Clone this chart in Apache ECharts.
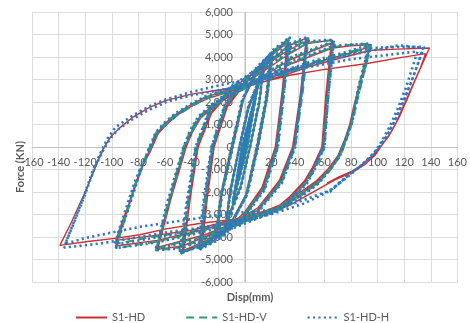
<!DOCTYPE html>
<html>
<head>
<meta charset="utf-8">
<script src="https://cdn.jsdelivr.net/npm/echarts@6/dist/echarts.min.js"></script>
<style>
  html, body { margin: 0; padding: 0; background: #fff; }
  #chart { width: 470px; height: 323px; }
</style>
</head>
<body>
<div id="chart"></div>
<script>
// series names
const seriesNames = ['S1-HD', 'S1-HD-V', 'S1-HD-H'];

// S1-HD  [disp (mm), force (kN)]
const hdPoints = [
  [0,0],
  [5,1400],[0.5,0],[-5,-1400],[-0.5,0],[5,1350],[0.5,0],[-5,-1350],[-0.5,0],
  [9,2500],[2,0],[-9,-2450],[-2,0],[9,2400],[2,0],[-9,-2400],[-2,0],
  [14,3500],[11,2000],[4,0],[-3,-1700],[-14,-3400],[-11,-2000],[-4,0],[3,1700],[14,3400],[11,1900],[4,0],[-3,-1700],[-14,-3300],[-11,-1900],[-4,0],[3,1800],
  [21,4200],[17,2200],[10,0],[2,-2000],[-10,-3300],[-22,-4000],[-18,-2100],[-10,0],[-2,2000],[10,3400],[20,4100],[16,2100],[9,0],[1,-2100],[-10,-3300],[-21,-3900],[-17,-2000],[-9,0],[-1,2100],[10,3400],
  [22,4250],[33,4800],[29,2600],[24,0],[14,-1800],[0,-3000],[-15,-3800],[-22,-4100],[-33,-4500],[-29,-2300],[-24,0],[-14,1800],[0,2900],[15,3800],[32,4650],[28,2400],[23,0],[13,-1800],[0,-2900],[-15,-3700],[-32,-4400],[-28,-2200],[-23,0],[-13,1800],[0,2800],[15,3600],[33,4500],
  [47,4850],[43,2600],[37,0],[27,-1500],[10,-2800],[-10,-3500],[-33,-4300],[-47,-4700],[-42,-2500],[-36,0],[-26,1500],[-10,2600],[10,3400],[30,4200],[46,4700],[42,2400],[36,0],[26,-1500],[10,-2700],[-10,-3400],[-30,-4200],[-46,-4600],[-41,-2300],[-35,0],[-25,1500],[-10,2500],[10,3200],[30,4000],[47,4600],
  [66,4750],[62,2400],[59,0],[52,-900],[46,-1500],[35,-2200],[25,-2700],[0,-3300],[-30,-4000],[-47,-4400],[-66,-4550],[-56,-2300],[-45,0],[-40,700],[-34,1330],[-24,1850],[-14,2220],[10,3000],[35,3900],[65,4600],[61,2300],[58,0],[51,-900],[45,-1500],[34,-2200],[24,-2700],[0,-3200],[-30,-3900],[-65,-4450],[-55,-2200],[-44,0],[-39,700],[-33,1300],[-23,1800],[-14,2150],[10,2900],[35,3700],[66,4400],
  [80,4500],[95,4550],[93,4150],[91,3780],[87,2900],[83,1900],[80,1110],[76,400],[71,-370],[64,-900],[55,-1500],[43,-2050],[30,-2600],[15,-2950],[0,-3200],[-20,-3500],[-40,-3800],[-66,-4150],[-97,-4400],
  [-92,-3500],[-87,-2600],[-82,-1700],[-77,-900],[-72,-200],[-66,600],[-59,1100],[-51,1490],[-40,1900],[-29,2220],[-9,2600],[20,3100],[50,3700],[75,4100],[94,4450],
  [90,3600],[86,2700],[82,1800],[79,1000],[75,300],[70,-400],[63,-950],[54,-1500],[42,-2000],[30,-2500],[15,-2850],[0,-3100],[-20,-3400],[-40,-3700],[-70,-3950],[-97,-4150],
  [-92,-3300],[-87,-2500],[-82,-1600],[-77,-850],[-71,-200],[-65,600],[-58,1050],[-50,1450],[-39,1850],[-28,2150],[-9,2500],[20,3000],[50,3600],[75,4000],[95,4300],
  [115,4350],[139,4400],[134,3750],[128,2950],[122,2100],[116,1300],[110,650],[104,150],[98,-370],[90,-800],[80,-1150],[70,-1400],[62,-1650],[50,-2050],[35,-2550],[19,-2950],[0,-3150],[-34,-3400],[-60,-3650],[-79,-3900],[-96,-4050],[-118,-4200],[-139,-4370],
  [-130,-3300],[-120,-2000],[-111,-720],[-106,-50],[-101,440],[-94,850],[-84,1330],[-72,1750],[-59,2075],[-40,2350],[-21,2520],[0,2700],[34,3190],[60,3450],[91,3700],[115,3950],[136,4150],
  [132,3500],[126,2700],[120,1900],[114,1100],[108,450],[102,0],[96,-400],[88,-800],[80,-1100],[70,-1350],[62,-1600]
];

// S1-HD-V
const hdvPoints = [
  [0,0],
  [5,1450],[0.5,0],[-5,-1450],[-0.5,0],[5,1400],[0.5,0],[-5,-1400],[-0.5,0],
  [9,2550],[2,0],[-9,-2500],[-2,0],[9,2450],[2,0],[-9,-2450],[-2,0],
  [14,3550],[11,2050],[4,0],[-3,-1750],[-14,-3450],[-11,-2050],[-4,0],[3,1750],[14,3450],[11,1950],[4,0],[-3,-1750],[-14,-3350],[-11,-1950],[-4,0],[3,1850],
  [21,4250],[17,2250],[10,0],[2,-2050],[-10,-3350],[-22,-4050],[-18,-2150],[-10,0],[-2,2050],[10,3450],[20,4150],[16,2150],[9,0],[1,-2150],[-10,-3350],[-21,-3950],[-17,-2050],[-9,0],[-1,2150],[10,3450],
  [22,4300],[34,4850],[30,2600],[25,0],[15,-1850],[0,-3050],[-15,-3850],[-22,-4150],[-34,-4550],[-30,-2350],[-25,0],[-15,1850],[0,2950],[15,3850],[33,4700],[29,2450],[24,0],[14,-1850],[0,-2950],[-15,-3750],[-33,-4450],[-29,-2250],[-24,0],[-14,1850],[0,2850],[15,3650],[34,4550],
  [48,4850],[44,2600],[38,0],[28,-1550],[10,-2850],[-10,-3550],[-33,-4350],[-48,-4750],[-43,-2550],[-37,0],[-27,1550],[-10,2650],[10,3450],[30,4250],[47,4750],[43,2450],[37,0],[27,-1550],[10,-2750],[-10,-3450],[-30,-4250],[-47,-4650],[-42,-2350],[-36,0],[-26,1550],[-10,2550],[10,3250],[30,4050],[48,4650],
  [67,4750],[63,2400],[60,0],[53,-950],[47,-1550],[36,-2250],[26,-2750],[0,-3350],[-30,-4050],[-47,-4450],[-67,-4600],[-57,-2350],[-46,0],[-41,700],[-35,1300],[-25,1850],[-15,2200],[10,3000],[35,3950],[66,4650],[62,2300],[59,0],[52,-950],[46,-1550],[35,-2250],[25,-2750],[0,-3250],[-30,-3950],[-66,-4500],[-56,-2250],[-45,0],[-40,650],[-34,1250],[-24,1800],[-15,2150],[10,2900],[35,3750],[67,4450],
  [80,4550],[95,4600],[93,4200],[92,3800],[88,2900],[84,1900],[81,1100],[77,400],[72,-400],[65,-950],[56,-1550],[44,-2100],[30,-2650],[15,-3000],[0,-3250],[-20,-3550],[-40,-3850],[-66,-4200],[-97,-4500],
  [-92,-3550],[-87,-2650],[-83,-1750],[-78,-950],[-73,-200],[-67,600],[-60,1050],[-52,1450],[-41,1850],[-30,2200],[-10,2600],[20,3150],[50,3750],[75,4150],[94,4500],
  [90,3650],[86,2750],[83,1850],[80,1000],[76,300],[71,-400],[64,-1000],[55,-1550],[43,-2050],[30,-2550],[15,-2900],[0,-3150],[-20,-3450],[-40,-3750],[-70,-4000],[-97,-4300],
  [-92,-3400],[-87,-2550],[-82,-1650],[-77,-900],[-72,-200],[-66,600],[-59,1000],[-51,1400],[-40,1800],[-29,2150],[-10,2550],[20,3050],[50,3650],[75,4100],[95,4450],
  [93,4050],[91,3600],[87,2750],[83,1850],[80,1000],[76,300],[71,-450],[64,-1050],[55,-1600],[43,-2100],[30,-2600],[15,-2950],[0,-3200]
];

// S1-HD-H
const hdhPoints = [
  [0,0],
  [5,1500],[0.5,0],[-5,-1500],[-0.5,0],[5,1450],[0.5,0],[-5,-1450],[-0.5,0],
  [9,2600],[2,0],[-9,-2550],[-2,0],[9,2500],[2,0],[-9,-2500],[-2,0],
  [14,3600],[11,2100],[4,0],[-3,-1800],[-14,-3500],[-11,-2100],[-4,0],[3,1800],[14,3500],[11,2000],[4,0],[-3,-1800],[-14,-3400],[-11,-2000],[-4,0],[3,1900],
  [21,4300],[17,2300],[10,0],[2,-2100],[-10,-3400],[-22,-4100],[-18,-2200],[-10,0],[-2,2100],[10,3500],[20,4200],[16,2200],[9,0],[1,-2200],[-10,-3400],[-21,-4000],[-17,-2100],[-9,0],[-1,2200],[10,3500],
  [22,4350],[34,4890],[30,2650],[25,0],[15,-1900],[0,-3100],[-15,-3900],[-22,-4200],[-35,-4600],[-31,-2400],[-25,0],[-15,1900],[0,3000],[15,3900],[33,4750],[29,2500],[24,0],[14,-1900],[0,-3000],[-15,-3800],[-34,-4500],[-30,-2300],[-24,0],[-14,1900],[0,2900],[15,3700],[34,4600],
  [47,4890],[43,2650],[38,0],[28,-1600],[10,-2900],[-10,-3600],[-33,-4400],[-49,-4740],[-44,-2600],[-37,0],[-27,1600],[-10,2700],[10,3500],[30,4300],[47,4800],[43,2500],[37,0],[27,-1600],[10,-2800],[-10,-3500],[-30,-4300],[-48,-4700],[-43,-2400],[-36,0],[-26,1600],[-10,2600],[10,3300],[30,4100],[48,4700],
  [67,4770],[63,2450],[60,0],[53,-950],[47,-1600],[36,-2300],[26,-2800],[0,-3400],[-30,-4100],[-48,-4500],[-67,-4590],[-58,-2400],[-46,0],[-41,750],[-35,1350],[-25,1900],[-15,2250],[10,3050],[35,4000],[67,4700],[63,2350],[59,0],[52,-950],[46,-1600],[35,-2300],[25,-2800],[0,-3300],[-30,-4000],[-67,-4550],[-57,-2300],[-45,0],[-40,700],[-34,1300],[-24,1850],[-15,2200],[10,2950],[35,3800],[67,4500],
  [80,4550],[95,4600],[93,4250],[92,3850],[88,2950],[84,1950],[81,1150],[77,450],[72,-350],[65,-950],[56,-1600],[44,-2150],[30,-2700],[15,-3050],[0,-3300],[-20,-3600],[-40,-3900],[-67,-4250],[-97,-4500],
  [-92,-3550],[-87,-2650],[-82,-1750],[-78,-950],[-73,-200],[-67,650],[-60,1100],[-52,1500],[-41,1900],[-30,2250],[-10,2650],[20,3200],[50,3800],[75,4200],[94,4550],
  [90,3700],[86,2800],[83,1900],[80,1050],[76,350],[71,-350],[64,-1000],[55,-1600],[43,-2100],[30,-2600],[15,-2950],[0,-3200],[-20,-3500],[-40,-3800],[-70,-4050],[-98,-4350],
  [-93,-3400],[-88,-2500],[-83,-1600],[-78,-850],[-72,-200],[-66,650],[-59,1050],[-51,1450],[-40,1850],[-29,2200],[-10,2600],[20,3100],[50,3700],[75,4100],[95,4400],
  [116,4450],[135,4450],[131,3800],[126,3000],[120,2100],[114,1300],[108,600],[102,50],[96,-400],[87,-850],[78,-1300],[64,-1950],[45,-2500],[30,-2800],[19,-3000],[0,-3250],[-34,-3600],[-60,-3800],[-79,-4000],[-110,-4300],[-136,-4470],
  [-129,-3400],[-121,-2200],[-114,-1000],[-108,-200],[-103,400],[-97,890],[-84,1410],[-72,1800],[-60,2100],[-40,2450],[-19,2740],[10,3100],[40,3550],[80,4100],[116,4520],[134,4400],
  [130,3650],[125,2850],[119,2000],[113,1200],[107,500],[101,0],[95,-400],[87,-850],[78,-1250],[64,-1930],[40,-2450],[19,-2800],[-11,-2960],[-45,-3250],[-79,-3550],[-100,-3800],[-120,-4050],[-135,-4300],
  [-128,-3300],[-120,-2100],[-113,-950],[-107,-200],[-102,300],[-96,750],[-84,1250],[-72,1650],[-59,2000],[-40,2300],[-21,2500],[0,2750],[34,3400],[80,3900],[130,4250],
  [126,3500],[121,2600],[115,1700],[109,900],[103,250],[97,-300],[88,-800],[78,-1250],[64,-2000]
];

const chart = echarts.init(document.getElementById('chart'), null, { renderer: 'canvas' });

const labelFont = 'Lato, "Open Sans", sans-serif';
const gray = '#595959';

const option = {
  animation: false,
  grid: { left: 32, right: 12, top: 12, bottom: 41 },
  xAxis: {
    type: 'value',
    min: -160,
    max: 160,
    interval: 20,
    position: 'bottom',
    offset: -135,
    axisLine: { onZero: false, lineStyle: { color: '#c4c4c4', width: 1 } },
    axisTick: { show: false },
    axisLabel: { color: gray, fontSize: 11, fontFamily: labelFont, margin: 10 },
    splitLine: { lineStyle: { color: '#dcdcdc', width: 1 } }
  },
  yAxis: {
    type: 'value',
    min: -6000,
    max: 6000,
    interval: 1000,
    position: 'left',
    offset: -213,
    axisLine: { show: true, onZero: false, lineStyle: { color: '#c4c4c4', width: 1 } },
    axisTick: { show: false },
    axisLabel: {
      color: gray, fontSize: 11, fontFamily: labelFont, margin: 12,
      formatter: v => (v < 0 ? '-' : '') + Math.abs(v).toLocaleString('en-US')
    },
    splitLine: { lineStyle: { color: '#dcdcdc', width: 1 } }
  },
  legend: {
    data: seriesNames,
    left: 75,
    top: 312,
    padding: 0,
    itemWidth: 31,
    itemHeight: 10,
    itemGap: 40,
    itemStyle: { opacity: 0 },
    textStyle: { color: gray, fontSize: 11, fontFamily: labelFont }
  },
  graphic: [
    {
      type: 'text', x: 20, y: 167, rotation: Math.PI / 2,
      style: { text: 'Force (KN)', textAlign: 'center', textVerticalAlign: 'middle', font: 'bold 11px Lato, sans-serif', fill: gray }
    },
    {
      type: 'text', x: 250, y: 297,
      style: { text: 'Disp(mm)', textAlign: 'center', textVerticalAlign: 'middle', font: 'bold 11px Lato, sans-serif', fill: gray }
    }
  ],
  series: [
    {
      name: seriesNames[0], type: 'line', data: hdPoints, symbol: 'none', z: 2,
      lineStyle: { color: '#cc2f37', width: 1.4 }, itemStyle: { color: '#cc2f37' }
    },
    {
      name: seriesNames[1], type: 'line', data: hdvPoints, symbol: 'none', z: 3,
      lineStyle: { color: '#2e9e6a', width: 2, type: [8, 5] }, itemStyle: { color: '#2e9e6a' }
    },
    {
      name: seriesNames[2], type: 'line', data: hdhPoints, symbol: 'none', z: 4,
      lineStyle: { color: '#2f78c0', width: 2.6, type: [2.2, 3.2] }, itemStyle: { color: '#2f78c0' }
    }
  ]
};

chart.setOption(option);
</script>
</body>
</html>
